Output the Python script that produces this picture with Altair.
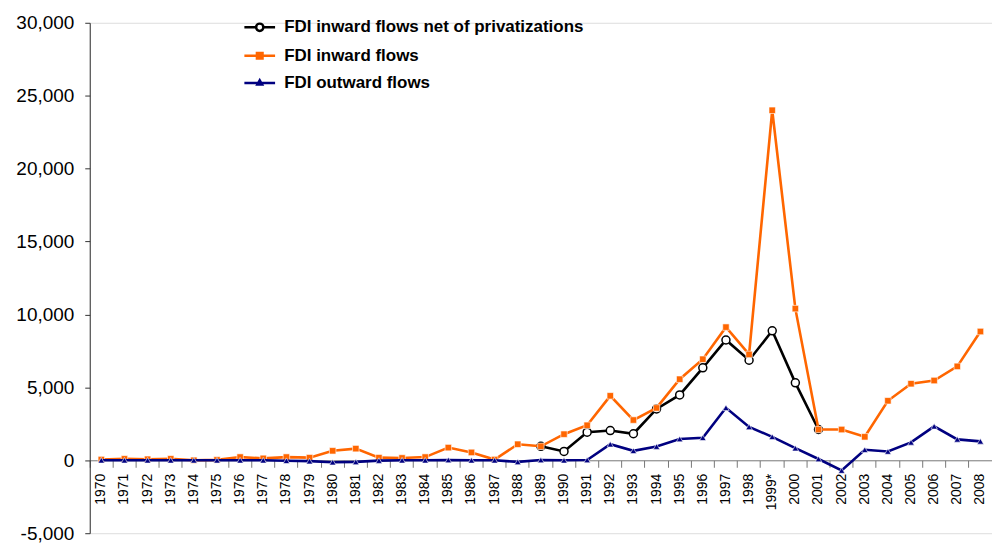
import altair as alt
import pandas as pd

years = ["1970", "1971", "1972", "1973", "1974", "1975", "1976", "1977", "1978", "1979",
         "1980", "1981", "1982", "1983", "1984", "1985", "1986", "1987", "1988", "1989",
         "1990", "1991", "1992", "1993", "1994", "1995", "1996", "1997", "1998", "1999*",
         "2000", "2001", "2002", "2003", "2004", "2005", "2006", "2007", "2008"]

inward = [50, 100, 70, 100, 0, 30, 220, 130, 220, 180,
          650, 800, 180, 160, 220, 870, 540, 50, 1100, 960,
          1790, 2400, 4420, 2760, 3590, 5560, 6930, 9130, 7260, 24000,
          10400, 2110, 2110, 1610, 4080, 5250, 5470, 6440, 8830]

net = [None] * 19 + [960,
       605, 1930, 2040, 1820, 3520, 4480, 6340, 8250, 6860, 8880,
       5310, 2110] + [None] * 7

outward = [0, 0, 0, 0, 0, 0, 0, 0, -30, -60,
           -130, -110, -20, 0, 0, 20, 0, 0, -110, 20,
           0, 20, 1100, 650, 940, 1460, 1550, 3600, 2290, 1610,
           830, 90, -700, 720, 605, 1230, 2330, 1435, 1300]

series_names = ["FDI inward flows net of privatizations", "FDI inward flows", "FDI outward flows"]
series_values = [net, inward, outward]
line_colors = ["#000000", "#FF6600", "#000080"]
fill_colors = ["#FFFFFF", "#FF6600", "#000080"]
marker_shapes = ["circle", "square", "triangle-up"]
marker_strokes = ["#000000", "#FFFFFF", "#FFFFFF"]
marker_sizes = [64, 42, 42]
marker_stroke_widths = [1.5, 0.6, 0.6]
legend_paths = [
    "M-1.1,0L-0.26,0M0.26,0L1.1,0M0.26,0A0.26,0.26,0,1,1,-0.26,0A0.26,0.26,0,1,1,0.26,0Z",
    "M-1.1,0L1.1,0M-0.2,-0.2L0.2,-0.2L0.2,0.2L-0.2,0.2Z",
    "M-1.1,0L1.1,0M0,-0.2L0.17,0.1L-0.17,0.1Z",
]

rows = []
for name, vals in zip(series_names, series_values):
    for yr, v in zip(years, vals):
        if v is not None:
            rows.append({"year": yr, "value": v, "series": name})
df = pd.DataFrame(rows)

W, H = 905, 512

x_enc = alt.X(
    "year:O", sort=years,
    scale=alt.Scale(type="band", domain=years, paddingInner=0, paddingOuter=0),
    axis=alt.Axis(title=None, labelAngle=270, labelFontSize=14, labelColor="black",
                  bandPosition=0, tickSize=7, tickColor="#777777",
                  domainColor="#777777", offset=-H / 7, labelPadding=6, grid=False,
                  labelOverlap=False, labelFlush=False),
)
y_enc = alt.Y(
    "value:Q",
    scale=alt.Scale(domain=[-5000, 30000], nice=False, zero=False),
    axis=alt.Axis(title=None, values=list(range(-5000, 30001, 5000)),
                  labelExpr="datum.value < 0 ? '-' + format(-datum.value, ',') : format(datum.value, ',')",
                  labelFontSize=19, labelColor="black", tickSize=5, labelPadding=11,
                  grid=False, domainColor="#333333", tickColor="#333333"),
)

base = alt.Chart(df)
layers = []
for i, name in enumerate(series_names):
    sub = base.transform_filter(alt.datum.series == name)
    layers.append(sub.mark_line(color=line_colors[i], strokeWidth=2.6).encode(x=x_enc, y=y_enc))
    layers.append(sub.mark_point(shape=marker_shapes[i], filled=True, fill=fill_colors[i],
                                 stroke=marker_strokes[i], strokeWidth=marker_stroke_widths[i],
                                 size=marker_sizes[i], opacity=1).encode(x=x_enc, y=y_enc))

leg = alt.Legend(title=None, orient="none", legendX=155, legendY=-11, padding=0,
                 symbolSize=784, symbolStrokeWidth=2.5, labelFontSize=17,
                 labelFont="Liberation Sans", labelFontWeight="bold", labelColor="black",
                 labelOffset=9, rowPadding=3.5, labelLimit=500)

legend_layer = base.transform_filter("false").mark_point(
    filled=True, strokeWidth=2.5, size=784, opacity=1).encode(
    x=x_enc, y=y_enc,
    shape=alt.Shape("series:N", scale=alt.Scale(domain=series_names, range=legend_paths), legend=leg),
    fill=alt.Fill("series:N", scale=alt.Scale(domain=series_names, range=fill_colors), legend=leg),
    stroke=alt.Stroke("series:N", scale=alt.Scale(domain=series_names, range=line_colors), legend=leg),
)

chart = alt.layer(*layers, legend_layer).properties(
    width=W, height=H,
    autosize=alt.AutoSizeParams(type="none"),
    padding={"left": 82, "top": 14, "right": 0, "bottom": 9},
    background="white",
).configure_view(stroke=None).configure(font="Liberation Sans")

chart.save("out.html", embed_options={"renderer": "svg", "actions": False})
